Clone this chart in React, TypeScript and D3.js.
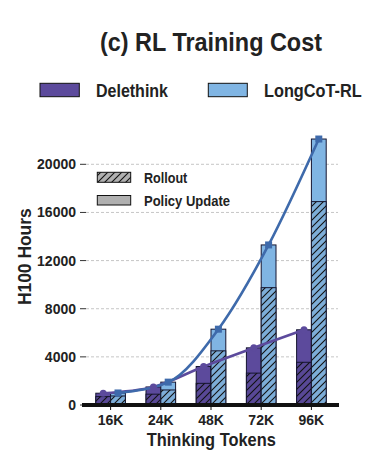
import React from "react";
import * as d3 from "d3";

const categories = ["16K", "24K", "48K", "72K", "96K"];
const delethinkTotal = [980, 1500, 3200, 4750, 6250];
const delethinkRollout = [700, 900, 1800, 2650, 3550];
const longcotTotal = [1000, 1900, 6300, 13300, 22100];
const longcotRollout = [750, 1250, 4500, 9750, 16900];
const yTicks = [0, 4000, 8000, 12000, 16000, 20000];

const PURPLE = "#5c4a9c";
const PURPLE_H = "#584896";
const BLUE = "#80b5e3";
const BLUE_H = "#7dadd8";
const LINE_BLUE = "#3e6aab";
const FONT = "'Liberation Sans', Arial, sans-serif";

export default function App() {
  const W = 380, H = 464;
  const x = d3.scaleBand<string>().domain(categories).range([85.5, 336.5]).padding(0);
  const y = d3.scaleLinear().domain([0, 20000]).range([405, 164.3]);
  const bw = 14.8;
  const cx = (c: string) => (x(c) as number) + x.bandwidth() / 2;

  const delPts: [number, number][] = categories.map((c, i) => [cx(c) - bw / 2, y(delethinkTotal[i])]);
  const longPts: [number, number][] = categories.map((c, i) => [cx(c) + bw / 2, y(longcotTotal[i])]);
  const line = d3.line<[number, number]>().curve(d3.curveMonotoneX);

  return (
    <svg width={W} height={H} style={{ position: "absolute", left: 0, top: 0, background: "#fff" }}>
      <defs>
        <pattern id="hatch" patternUnits="userSpaceOnUse" width="7" height="7">
          <path d="M-1,1 L1,-1 M0,7 L7,0 M6,8 L8,6" stroke="#111" strokeWidth="1.1" />
        </pattern>
      </defs>
      <rect x={0} y={0} width={W} height={H} fill="#fff" />
      <text x={100} y={50.7} fontFamily={FONT} fontWeight="bold" fontSize={25} fill="#222"
        textLength={222} lengthAdjust="spacingAndGlyphs">(c) RL Training Cost</text>

      {/* top legend */}
      <rect x={40} y={83.3} width={39.3} height={13.4} fill={PURPLE} stroke="#111" strokeWidth={1} />
      <text x={96} y={96.7} fontFamily={FONT} fontWeight="bold" fontSize={18} fill="#222"
        textLength={72} lengthAdjust="spacingAndGlyphs">Delethink</text>
      <rect x={208.3} y={83.3} width={39} height={13.4} fill={BLUE} stroke="#111" strokeWidth={1} />
      <text x={264} y={96.7} fontFamily={FONT} fontWeight="bold" fontSize={18} fill="#222"
        textLength={97.7} lengthAdjust="spacingAndGlyphs">LongCoT-RL</text>

      {/* grid & y ticks */}
      {yTicks.map((t) => (
        <g key={t}>
          {t > 0 && (
            <line x1={86} x2={338} y1={y(t)} y2={y(t)} stroke="#b8b8b8" strokeWidth={0.8} strokeDasharray="3,2" />
          )}
          <line x1={80} x2={86} y1={y(t)} y2={y(t)} stroke="#333" strokeWidth={1} />
          <text x={76} y={y(t) + 5} textAnchor="end" fontFamily={FONT} fontWeight="bold" fontSize={14} fill="#222">
            {t}
          </text>
        </g>
      ))}

      {/* bars */}
      {categories.map((c, i) => {
        const xc = cx(c);
        return (
          <g key={c}>
            <rect x={xc - bw} y={y(delethinkTotal[i])} width={bw} height={y(0) - y(delethinkTotal[i])} fill={PURPLE} stroke="#151530" strokeWidth={1} />
            <rect x={xc - bw} y={y(delethinkRollout[i])} width={bw} height={y(0) - y(delethinkRollout[i])} fill={PURPLE_H} stroke="#151530" strokeWidth={1} />
            <rect x={xc - bw} y={y(delethinkRollout[i])} width={bw} height={y(0) - y(delethinkRollout[i])} fill="url(#hatch)" />
            <rect x={xc} y={y(longcotTotal[i])} width={bw} height={y(0) - y(longcotTotal[i])} fill={BLUE} stroke="#151530" strokeWidth={1} />
            <rect x={xc} y={y(longcotRollout[i])} width={bw} height={y(0) - y(longcotRollout[i])} fill={BLUE_H} stroke="#151530" strokeWidth={1} />
            <rect x={xc} y={y(longcotRollout[i])} width={bw} height={y(0) - y(longcotRollout[i])} fill="url(#hatch)" />
          </g>
        );
      })}

      {/* lines */}
      <path d={line(delPts) || ""} fill="none" stroke={PURPLE} strokeWidth={2.6} />
      <path d={line(longPts) || ""} fill="none" stroke={LINE_BLUE} strokeWidth={2.6} />
      {delPts.map((p, i) => (
        <circle key={"d" + i} cx={p[0]} cy={p[1]} r={3.5} fill={PURPLE} />
      ))}
      {longPts.map((p, i) => (
        <rect key={"l" + i} x={p[0] - 3.5} y={p[1] - 3.5} width={7} height={7} fill={LINE_BLUE} />
      ))}

      {/* x axis baseline */}
      <line x1={82} x2={339} y1={y(0)} y2={y(0)} stroke="#111" strokeWidth={4} />
      {categories.map((c) => (
        <g key={"t" + c}>
          <line x1={cx(c)} x2={cx(c)} y1={y(0)} y2={y(0) + 5} stroke="#111" strokeWidth={1} />
          <text x={cx(c)} y={425} textAnchor="middle" fontFamily={FONT} fontWeight="bold" fontSize={14} fill="#222">
            {c}
          </text>
        </g>
      ))}
      <text x={211.3} y={446} textAnchor="middle" fontFamily={FONT} fontWeight="bold" fontSize={19} fill="#222"
        textLength={129} lengthAdjust="spacingAndGlyphs">Thinking Tokens</text>
      <text transform="translate(31,256.7) rotate(-90)" textAnchor="middle" fontFamily={FONT} fontWeight="bold" fontSize={19} fill="#222"
        textLength={96.7} lengthAdjust="spacingAndGlyphs">H100 Hours</text>

      {/* inner legend */}
      <rect x={97.3} y={172.3} width={33.4} height={10} fill="#b0b0b0" stroke="#111" strokeWidth={1} />
      <rect x={97.3} y={172.3} width={33.4} height={10} fill="url(#hatch)" />
      <text x={144} y={182.7} fontFamily={FONT} fontWeight="bold" fontSize={14} fill="#222"
        textLength={43.3} lengthAdjust="spacingAndGlyphs">Rollout</text>
      <rect x={97.3} y={195.5} width={33.4} height={9.5} fill="#b0b0b0" stroke="#111" strokeWidth={1} />
      <text x={144} y={205.7} fontFamily={FONT} fontWeight="bold" fontSize={14} fill="#222"
        textLength={86} lengthAdjust="spacingAndGlyphs">Policy Update</text>
    </svg>
  );
}
